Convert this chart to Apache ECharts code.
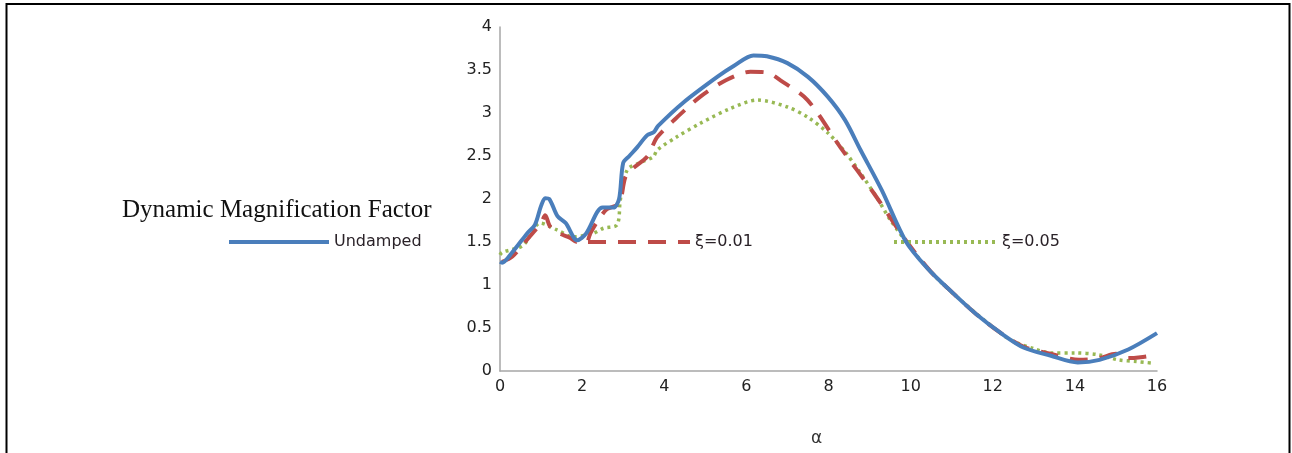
<!DOCTYPE html>
<html>
<head>
<meta charset="utf-8">
<script src="https://cdn.jsdelivr.net/npm/echarts@6/dist/echarts.min.js"></script>
<style>
  html, body { margin: 0; padding: 0; background: #fff; }
  #chart { width: 1292px; height: 453px; }
</style>
</head>
<body>
<div id="chart"></div>
<script>
// values (alpha, factor)
var undampedAlpha = [0, 0.05, 0.3, 0.66, 0.85, 1.0, 1.1, 1.2, 1.4, 1.6, 1.88, 2.1, 2.37, 2.5, 2.76, 2.9, 3.0, 3.15, 3.34, 3.58, 3.75, 3.85, 4.46, 5.29, 5.7, 6.17, 6.5, 7.0, 7.5, 7.98, 8.4, 8.78, 9.3, 9.88, 10.4, 11.0, 11.6, 12.2, 12.76, 13.4, 14.07, 14.6, 15.3, 16];
var undampedVal   = [1.27, 1.26, 1.38, 1.6, 1.7, 1.92, 2.01, 2.0, 1.8, 1.72, 1.52, 1.6, 1.85, 1.9, 1.9, 2.0, 2.42, 2.5, 2.6, 2.74, 2.78, 2.85, 3.12, 3.42, 3.55, 3.67, 3.66, 3.58, 3.42, 3.19, 2.92, 2.57, 2.1, 1.51, 1.2, 0.92, 0.66, 0.44, 0.27, 0.18, 0.1, 0.13, 0.25, 0.44];

var xi001Alpha = [0.05, 0.3, 0.7, 1.0, 1.1, 1.22, 1.45, 1.7, 1.87, 2.1, 2.2, 2.36, 2.6, 2.9, 3.05, 3.2, 3.58, 3.7, 3.83, 4.2, 4.88, 5.5, 6.1, 6.5, 6.83, 7.49, 8.29, 9.1, 9.88, 10.5, 11.0, 11.6, 12.2, 12.76, 13.4, 14.1, 14.6, 15.0, 15.3, 15.6, 16];
var xi001Val   = [1.27, 1.33, 1.55, 1.72, 1.81, 1.68, 1.6, 1.55, 1.5, 1.5, 1.6, 1.73, 1.88, 1.95, 2.25, 2.34, 2.49, 2.6, 2.72, 2.9, 3.19, 3.38, 3.48, 3.47, 3.38, 3.15, 2.6, 2.07, 1.52, 1.15, 0.92, 0.66, 0.44, 0.28, 0.2, 0.13, 0.15, 0.2, 0.15, 0.16, 0.19];

var xi005Alpha = [0, 0.05, 0.56, 0.98, 1.39, 1.78, 2.27, 2.52, 2.85, 2.93, 3.1, 3.4, 3.73, 3.83, 4.3, 4.88, 5.6, 6.27, 7.0, 7.5, 7.98, 8.4, 8.78, 9.2, 9.5, 10.17, 10.7, 11.3, 11.9, 12.44, 13.0, 13.41, 14.0, 14.56, 15.05, 15.5, 15.93];
var xi005Val   = [1.35, 1.38, 1.46, 1.72, 1.64, 1.56, 1.6, 1.66, 1.7, 1.99, 2.34, 2.42, 2.49, 2.57, 2.72, 2.88, 3.05, 3.15, 3.07, 2.95, 2.77, 2.55, 2.3, 2.0, 1.76, 1.33, 1.05, 0.79, 0.55, 0.36, 0.26, 0.21, 0.21, 0.19, 0.13, 0.11, 0.09];

var seriesNames = ['Undamped', 'ξ=0.01', 'ξ=0.05'];

function pairs(xs, ys) {
    return xs.map(function (x, i) { return [x, ys[i]]; });
}

var chart = echarts.init(document.getElementById('chart'));

var legendText = { fontFamily: 'DejaVu Sans', fontSize: 16, color: '#2a2228' };

// legend without the dot, only the line
function legendFor(name, left, w) {
    return {
        data: [name], left: left, top: 229,
        itemWidth: w, itemHeight: 18, itemGap: 0,
        itemStyle: { opacity: 0 },
        lineStyle: { width: 4 },
        textStyle: legendText
    };
}

var option = {
    backgroundColor: '#fff',
    animation: false,
    title: {
        text: 'Dynamic Magnification Factor',
        left: 122,
        top: 198,
        padding: 0,
        textStyle: { fontFamily: 'Liberation Serif', fontSize: 25, fontWeight: 'normal', color: '#111' }
    },
    legend: [
        legendFor(seriesNames[0], 222, 100),
        legendFor(seriesNames[1], 581, 102),
        legendFor(seriesNames[2], 887, 103)
    ],
    grid: { left: 500, right: 135, top: 27, bottom: 82 },
    xAxis: {
        type: 'value', min: 0, max: 16, interval: 2,
        name: 'α', nameLocation: 'middle', nameGap: 59,
        nameTextStyle: { fontFamily: 'DejaVu Sans', fontSize: 17, color: '#333', padding: [0, 24, 0, 0] },
        axisLine: { lineStyle: { color: '#a6a6a6', width: 1.5 } },
        axisTick: { show: false },
        splitLine: { show: false },
        axisLabel: { fontFamily: 'DejaVu Sans', fontSize: 16, color: '#222', margin: 8 }
    },
    yAxis: {
        type: 'value', min: 0, max: 4, interval: 0.5,
        axisLine: { show: true, lineStyle: { color: '#a6a6a6', width: 1.5 } },
        axisTick: { show: false },
        splitLine: { show: false },
        axisLabel: { fontFamily: 'DejaVu Sans', fontSize: 16, color: '#222', margin: 8 }
    },
    graphic: [{
        type: 'rect',
        shape: { x: 6.5, y: 4, width: 1283, height: 500 },
        style: { fill: 'none', stroke: '#000', lineWidth: 2 },
        silent: true
    }],
    series: [
        {
            name: seriesNames[2], type: 'line', symbol: 'none', smooth: 0.3, z: 2,
            data: pairs(xi005Alpha, xi005Val),
            lineStyle: { color: '#98b954', width: 3.5, type: [3, 4] },
            itemStyle: { color: '#98b954' }
        },
        {
            name: seriesNames[1], type: 'line', symbol: 'none', smooth: 0.3, z: 3,
            data: pairs(xi001Alpha, xi001Val),
            lineStyle: { color: '#be4b48', width: 4, type: [18, 12] },
            itemStyle: { color: '#be4b48' }
        },
        {
            name: seriesNames[0], type: 'line', symbol: 'none', smooth: 0.3, z: 4,
            data: pairs(undampedAlpha, undampedVal),
            lineStyle: { color: '#4a7ebb', width: 4 },
            itemStyle: { color: '#4a7ebb' }
        }
    ]
};

chart.setOption(option);
</script>
</body>
</html>
